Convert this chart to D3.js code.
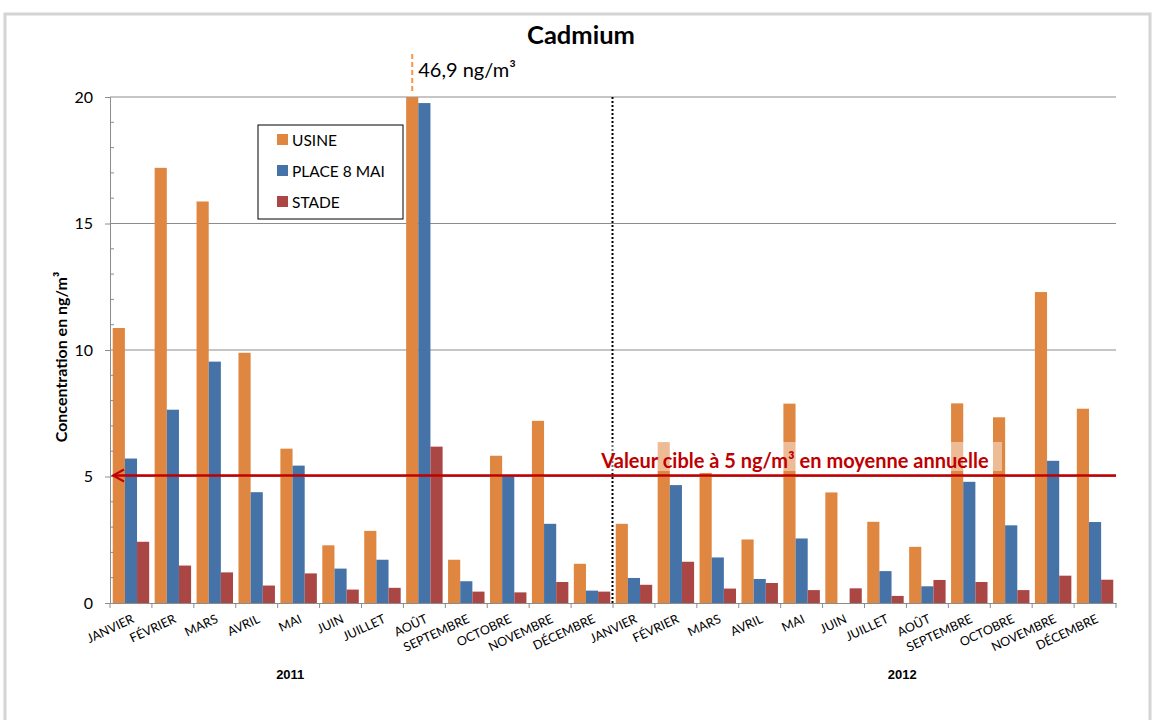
<!DOCTYPE html>
<html><head><meta charset="utf-8">
<script src="https://cdn.jsdelivr.net/npm/d3@7"></script>
<style>body{margin:0;background:#fff;} svg{display:block;}</style>
</head><body>
<svg id="c" width="1155" height="720"></svg>
<script>
const months = ["JANVIER","FÉVRIER","MARS","AVRIL","MAI","JUIN","JUILLET","AOÛT","SEPTEMBRE","OCTOBRE","NOVEMBRE","DÉCEMBRE"];
const years = ["2011","2012"];
const seriesNames = ["USINE","PLACE 8 MAI","STADE"];
const seriesColors = ["#DF8640","#4572A7","#AA4643"];
const usine = [10.87,17.2,15.87,9.89,6.1,2.28,2.85,46.9,1.71,5.82,7.2,1.55,
               3.13,6.36,5.14,2.51,7.88,4.37,3.21,2.22,7.89,7.34,12.29,7.68];
const place8mai = [5.71,7.64,9.54,4.38,5.43,1.36,1.71,19.76,0.86,5.05,3.13,0.49,
                   0.99,4.66,1.8,0.95,2.55,0,1.26,0.66,4.79,3.07,5.62,3.2];
const stade = [2.42,1.48,1.21,0.69,1.17,0.53,0.6,6.18,0.45,0.42,0.83,0.45,
               0.72,1.63,0.57,0.79,0.51,0.58,0.28,0.91,0.83,0.51,1.08,0.92];
const yTicks = [0,5,10,15,20];
const targetValue = 5;
const peakLabel = "46,9 ng/m³";

const svg = d3.select("#c");
const L=110, R=1116, T=97, B=603;
const cats = [];
years.forEach(y=>months.forEach(m=>cats.push(y+"|"+m)));
const x = d3.scaleBand().domain(cats).range([L,R]).padding(0);
const xs = d3.scaleBand().domain(seriesNames).range([0,x.bandwidth()]).paddingInner(0).paddingOuter(0.225);
const y = d3.scaleLinear().domain([0,20]).range([B,T]);
const FONT = "Lato, 'Open Sans', sans-serif";

// frame
svg.append("rect").attr("x",5).attr("y",14).attr("width",1145).attr("height",720).attr("fill","none").attr("stroke","#d4d4d4").attr("stroke-width",3);

// gridlines
svg.append("g").selectAll("line").data(yTicks.filter(d=>d>0)).join("line")
  .attr("x1",L).attr("x2",R).attr("y1",d=>y(d)).attr("y2",d=>y(d))
  .attr("stroke","#8c8c8c").attr("stroke-width",1);

// bars
const data = [usine,place8mai,stade];
const gb = svg.append("g");
seriesNames.forEach((s,si)=>{
  gb.selectAll(null).data(cats).join("rect")
    .attr("x",c=>x(c)+xs(s)).attr("width",xs.bandwidth())
    .attr("y",(c,i)=>y(Math.min(20,data[si][i])))
    .attr("height",(c,i)=>B-y(Math.min(20,data[si][i])))
    .attr("fill",seriesColors[si]);
});

// y axis
const yAxis = svg.append("g").attr("transform",`translate(${L},0)`)
  .call(d3.axisLeft(y).tickValues(yTicks).tickSize(5).tickPadding(12));
yAxis.select(".domain").attr("stroke","#8c8c8c");
yAxis.selectAll(".tick line").attr("stroke","#8c8c8c");
yAxis.selectAll("text").attr("font-family",FONT).attr("font-size",16).attr("fill","#000");
// minor ticks
svg.append("g").selectAll("line").data(d3.range(0,21).filter(v=>v%5)).join("line")
  .attr("x1",L).attr("x2",L+4).attr("y1",d=>y(d)).attr("y2",d=>y(d)).attr("stroke","#8c8c8c");

// x axis
const xAxis = svg.append("g").attr("transform",`translate(0,${B})`)
  .call(d3.axisBottom(x).tickSize(0).tickFormat(c=>c.split("|")[1]));
xAxis.select(".domain").attr("stroke","#8c8c8c");
xAxis.selectAll("text").attr("font-family",FONT).attr("font-size",12.5).attr("fill","#000")
  .attr("text-anchor","end").attr("dy",null).attr("y",0)
  .attr("transform","translate(4,19) rotate(-25)");
svg.append("g").selectAll("line").data(d3.range(0,25)).join("line")
  .attr("x1",i=>L+i*x.step()).attr("x2",i=>L+i*x.step()).attr("y1",B).attr("y2",B+5).attr("stroke","#8c8c8c");

// year labels
const yearShift = [4.3, 6.9];
years.forEach((yr,i)=>{
  const first = x(yr+"|"+months[0]);
  svg.append("text").attr("x",first+yearShift[i]*x.step()).attr("y",679).attr("text-anchor","middle")
    .attr("font-family","'Liberation Sans', Arial, sans-serif").attr("font-weight","bold").attr("font-size",13).text(yr);
});

// dotted separator
svg.append("line").attr("x1",x("2012|JANVIER")-0.5).attr("x2",x("2012|JANVIER")-0.5).attr("y1",T).attr("y2",B)
  .attr("stroke","#000").attr("stroke-width",2).attr("stroke-dasharray","2,2");

// peak annotation
const aoutX = x("2011|AOÛT")+xs("USINE")+xs.bandwidth()/2;
svg.append("line").attr("x1",aoutX).attr("x2",aoutX).attr("y1",54).attr("y2",91)
  .attr("stroke","#F79646").attr("stroke-width",2).attr("stroke-dasharray","5,3");
svg.append("text").attr("x",aoutX+6).attr("y",77).attr("font-family",FONT).attr("font-size",20).attr("fill","#000").text(peakLabel);

// target text box (semi-transparent)
svg.append("rect").attr("x",598).attr("y",442).attr("width",404).attr("height",29).attr("fill","#fff").attr("opacity",0.45);
svg.append("text").attr("x",795).attr("y",468).attr("text-anchor","middle").attr("font-family",FONT)
  .attr("font-weight","bold").attr("font-size",20).attr("fill","#C00000").text("Valeur cible à 5 ng/m³ en moyenne annuelle");

// target line with arrow
const ty = y(targetValue)-1;
svg.append("line").attr("x1",L+3).attr("x2",R).attr("y1",ty).attr("y2",ty).attr("stroke","#C00000").attr("stroke-width",2.5);
svg.append("path").attr("d",`M${L+14},${ty-6} L${L+3},${ty} L${L+14},${ty+6}`).attr("fill","none").attr("stroke","#C00000").attr("stroke-width",2);

// title
svg.append("text").attr("x",581).attr("y",44).attr("text-anchor","middle").attr("font-family",FONT)
  .attr("font-weight","bold").attr("font-size",25.5).text("Cadmium");

// y label
svg.append("text").attr("transform",`translate(67,357) rotate(-90)`).attr("text-anchor","middle")
  .attr("font-family",FONT).attr("font-weight","bold").attr("font-size",16).text("Concentration en ng/m³");

// legend
const lg = svg.append("g");
lg.append("rect").attr("x",258).attr("y",125).attr("width",145).attr("height",94).attr("fill","#fff").attr("stroke","#000").attr("stroke-width",1);
seriesNames.forEach((s,i)=>{
  lg.append("rect").attr("x",277).attr("y",134+i*31).attr("width",11).attr("height",11).attr("fill",seriesColors[i]);
  lg.append("text").attr("x",292).attr("y",146+i*31).attr("font-family",FONT).attr("font-size",15.5).text(s);
});
</script>
</body></html>
